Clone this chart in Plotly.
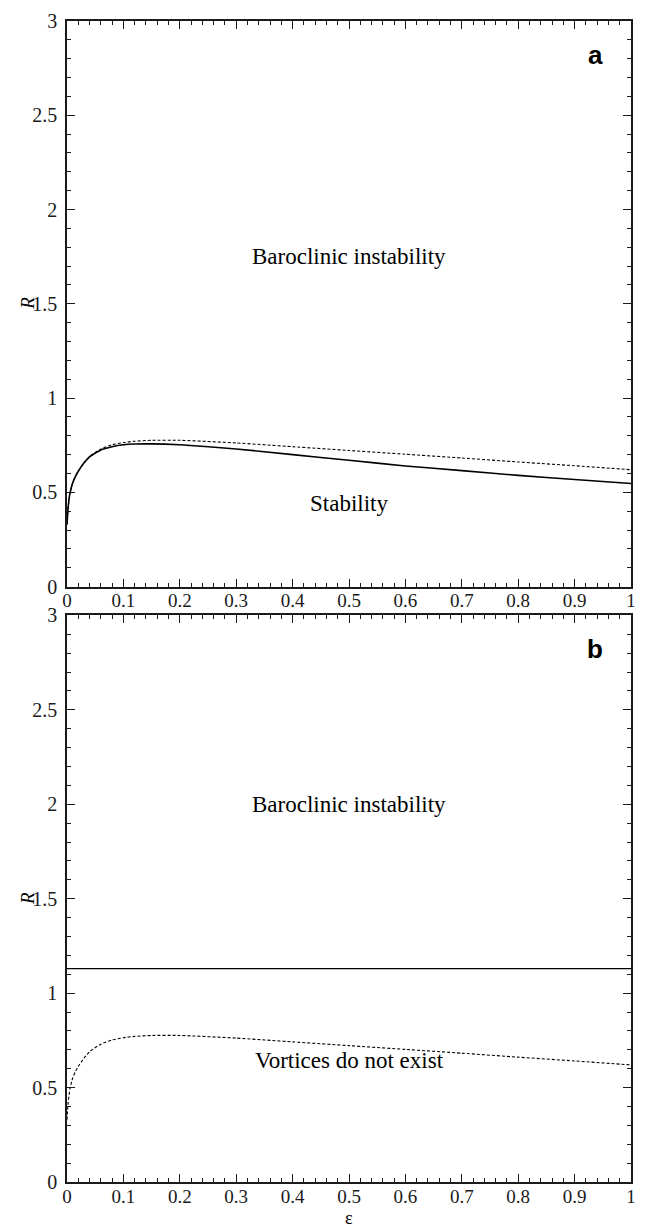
import plotly.graph_objects as go

# ---- data ----
eps_solid = [0, 0.002, 0.005, 0.01, 0.015, 0.02, 0.03, 0.04, 0.06, 0.08, 0.1, 0.12, 0.15, 0.2,
             0.3, 0.4, 0.5, 0.6, 0.7, 0.8, 0.9, 1.0]
R_solid = [0.33, 0.42, 0.49, 0.55, 0.585, 0.612, 0.655, 0.688, 0.725, 0.742, 0.752, 0.756, 0.757, 0.752,
           0.73, 0.70, 0.67, 0.64, 0.615, 0.59, 0.568, 0.547]

eps_dash = [0, 0.002, 0.005, 0.01, 0.015, 0.02, 0.03, 0.04, 0.06, 0.08, 0.1, 0.12, 0.15, 0.2,
            0.3, 0.4, 0.5, 0.6, 0.7, 0.8, 0.9, 1.0]
R_dash = [0.33, 0.42, 0.49, 0.55, 0.585, 0.612, 0.655, 0.69, 0.73, 0.752, 0.764, 0.771, 0.776, 0.776,
          0.762, 0.742, 0.722, 0.702, 0.682, 0.661, 0.641, 0.62]

eps_line = [0, 1]
R_line_b = [1.13, 1.13]

labels_a = [("Baroclinic instability", 0.5, 1.75), ("Stability", 0.5, 0.44)]
labels_b = [("Baroclinic instability", 0.5, 2.0), ("Vortices do not exist", 0.5, 0.645)]

FONT = "Liberation Serif"
INK = "#1a1a1a"

fig = go.Figure()
fig.add_trace(go.Scatter(x=eps_solid, y=R_solid, mode="lines", line=dict(color="black", width=1.6, shape="spline", smoothing=0.5),
                         xaxis="x", yaxis="y", showlegend=False))
fig.add_trace(go.Scatter(x=eps_dash, y=R_dash, mode="lines", line=dict(color="black", width=1.1, dash="3px,2px", shape="spline", smoothing=0.5),
                         xaxis="x", yaxis="y", showlegend=False))
fig.add_trace(go.Scatter(x=eps_line, y=R_line_b, mode="lines", line=dict(color="black", width=1.4),
                         xaxis="x2", yaxis="y2", showlegend=False))
fig.add_trace(go.Scatter(x=eps_dash, y=R_dash, mode="lines", line=dict(color="black", width=1.1, dash="3px,2px", shape="spline", smoothing=0.5),
                         xaxis="x2", yaxis="y2", showlegend=False))

def xax(anchor):
    return dict(range=[0, 1], anchor=anchor, showline=True, linecolor=INK, linewidth=1.6, mirror="ticks",
                ticks="inside", ticklen=8, tickwidth=1.3, tickcolor=INK, dtick=0.1, tick0=0,
                minor=dict(ticks="inside", ticklen=4, dtick=0.02, tickwidth=1.1, tickcolor=INK),
                showgrid=False, zeroline=False, tickfont=dict(family=FONT, size=19, color=INK),
                ticklabelstandoff=-4)

def yax(anchor, domain):
    return dict(range=[0, 3], anchor=anchor, domain=domain, showline=True, linecolor=INK, linewidth=1.6, mirror="ticks",
                ticks="inside", ticklen=8, tickwidth=1.3, tickcolor=INK, dtick=0.5, tick0=0,
                minor=dict(ticks="inside", ticklen=4, dtick=0.1, tickwidth=1.1, tickcolor=INK),
                showgrid=False, zeroline=False, tickfont=dict(family=FONT, size=20, color=INK),
                ticklabelstandoff=4)

W, H = 646, 1229
L, R_, T, B = 67, 10, 14, 47
ph = H - T - B
pw = W - L - R_

def py(pix):
    return (H - B - pix) / ph

fig.update_layout(
    width=W, height=H, margin=dict(l=L, r=R_, t=T, b=B),
    paper_bgcolor="white", plot_bgcolor="white",
    xaxis=xax("y"), yaxis=yax("x", [py(583), 1.0]),
    xaxis2=xax("y2"), yaxis2=yax("x2", [0.0, py(612)]),
)

ann = []
for txt, x, y in labels_a:
    ann.append(dict(text=txt, x=x, y=y, xref="x", yref="y", showarrow=False,
                    xanchor="center", yanchor="middle",
                    font=dict(family=FONT, size=23, color="black")))
for txt, x, y in labels_b:
    ann.append(dict(text=txt, x=x, y=y, xref="x2", yref="y2", showarrow=False,
                    xanchor="center", yanchor="middle",
                    font=dict(family=FONT, size=23, color="black")))
ann.append(dict(text="<b>a</b>", x=0.937, y=2.82, xref="x", yref="y", showarrow=False,
                xanchor="center", yanchor="middle",
                font=dict(family="Liberation Sans", size=26, color="black")))
ann.append(dict(text="<b>b</b>", x=0.937, y=2.82, xref="x2", yref="y2", showarrow=False,
                xanchor="center", yanchor="middle",
                font=dict(family="Liberation Sans", size=26, color="black")))
for yp in [298, 897]:
    ann.append(dict(text="<i>R</i>", x=(27 - L) / pw, y=py(yp), xref="paper", yref="paper", showarrow=False,
                    xanchor="center", yanchor="middle",
                    textangle=-90, font=dict(family=FONT, size=19, color="black")))
ann.append(dict(text="ε", x=(352 - L) / pw, y=py(1218), xref="paper", yref="paper", showarrow=False,
                xanchor="center", yanchor="middle",
                font=dict(family=FONT, size=18, color="black")))
fig.update_layout(annotations=ann)

fig.write_html("out.html")
